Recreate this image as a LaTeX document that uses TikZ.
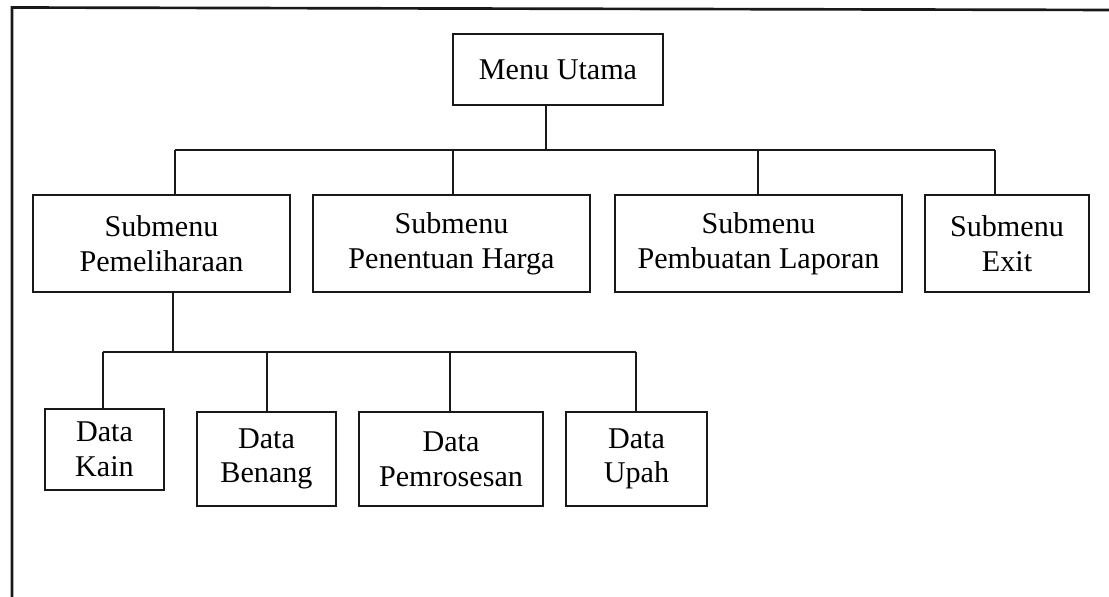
\documentclass[tikz,border=0pt]{standalone}
\usepackage{fontspec}
\setmainfont{Liberation Serif}
\begin{document}
\begin{tikzpicture}[x=0.75pt,y=-0.75pt,
  box/.style={draw=black!90,line width=2pt,inner sep=0pt,align=center,
    font=\fontsize{22.6}{26}\selectfont},
  sz/.style 2 args={minimum width=#1*0.75pt,minimum height=#2*0.75pt},
  conn/.style={draw=black!90,line width=1.3pt},
  frame/.style={draw=black!90,line width=2pt}]
\useasboundingbox (0,0) rectangle (1109,596);
% outer frame
\coordinate (fa) at (12,620);
\coordinate (fb) at (12,7.5);
\coordinate (fc) at (1120,10);
\draw[frame] (fa) -- (fb) -- (fc);
% nodes
\node[box,sz={210}{71}] (menu) at (558,69.5) {Menu Utama};
\node[box,sz={257}{97}] (sp) at (161.5,243.5) {Submenu\\Pemeliharaan};
\node[box,sz={277}{97}] (sh) at (451.5,243.5) {Submenu\\Penentuan Harga};
\node[box,sz={287}{97}] (sl) at (758.5,243.5) {Submenu\\Pembuatan Laporan};
\node[box,sz={164}{97}] (se) at (1007,243.5) {Submenu\\Exit};
\node[box,sz={119}{81}] (dk) at (104.5,449.5) {Data\\Kain};
\node[box,sz={139}{94}] (db) at (266.5,459) {Data\\Benang};
\node[box,sz={184}{94}] (dp) at (451,459) {Data\\Pemrosesan};
\node[box,sz={141}{94}] (du) at (636.5,459) {Data\\Upah};
% bus coordinates
\coordinate (b0) at (546,150);
\coordinate (b1) at (175,150);
\coordinate (b2) at (453,150);
\coordinate (b3) at (758,150);
\coordinate (b4) at (995,150);
\coordinate (c0) at (173,352);
\coordinate (c1) at (103,352);
\coordinate (c2) at (267,352);
\coordinate (c3) at (450,352);
\coordinate (c4) at (636,352);
% connectors level 1
\draw[conn] (menu.south -| b0) -- (b0);
\draw[conn] (b1) -- (b4);
\draw[conn] (b1) -- (sp.north -| b1);
\draw[conn] (b2) -- (sh.north -| b2);
\draw[conn] (b3) -- (sl.north -| b3);
\draw[conn] (b4) -- (se.north -| b4);
% connectors level 2
\draw[conn] (sp.south -| c0) -- (c0);
\draw[conn] (c1) -- (c4);
\draw[conn] (c1) -- (dk.north -| c1);
\draw[conn] (c2) -- (db.north -| c2);
\draw[conn] (c3) -- (dp.north -| c3);
\draw[conn] (c4) -- (du.north -| c4);
\end{tikzpicture}
\end{document}
